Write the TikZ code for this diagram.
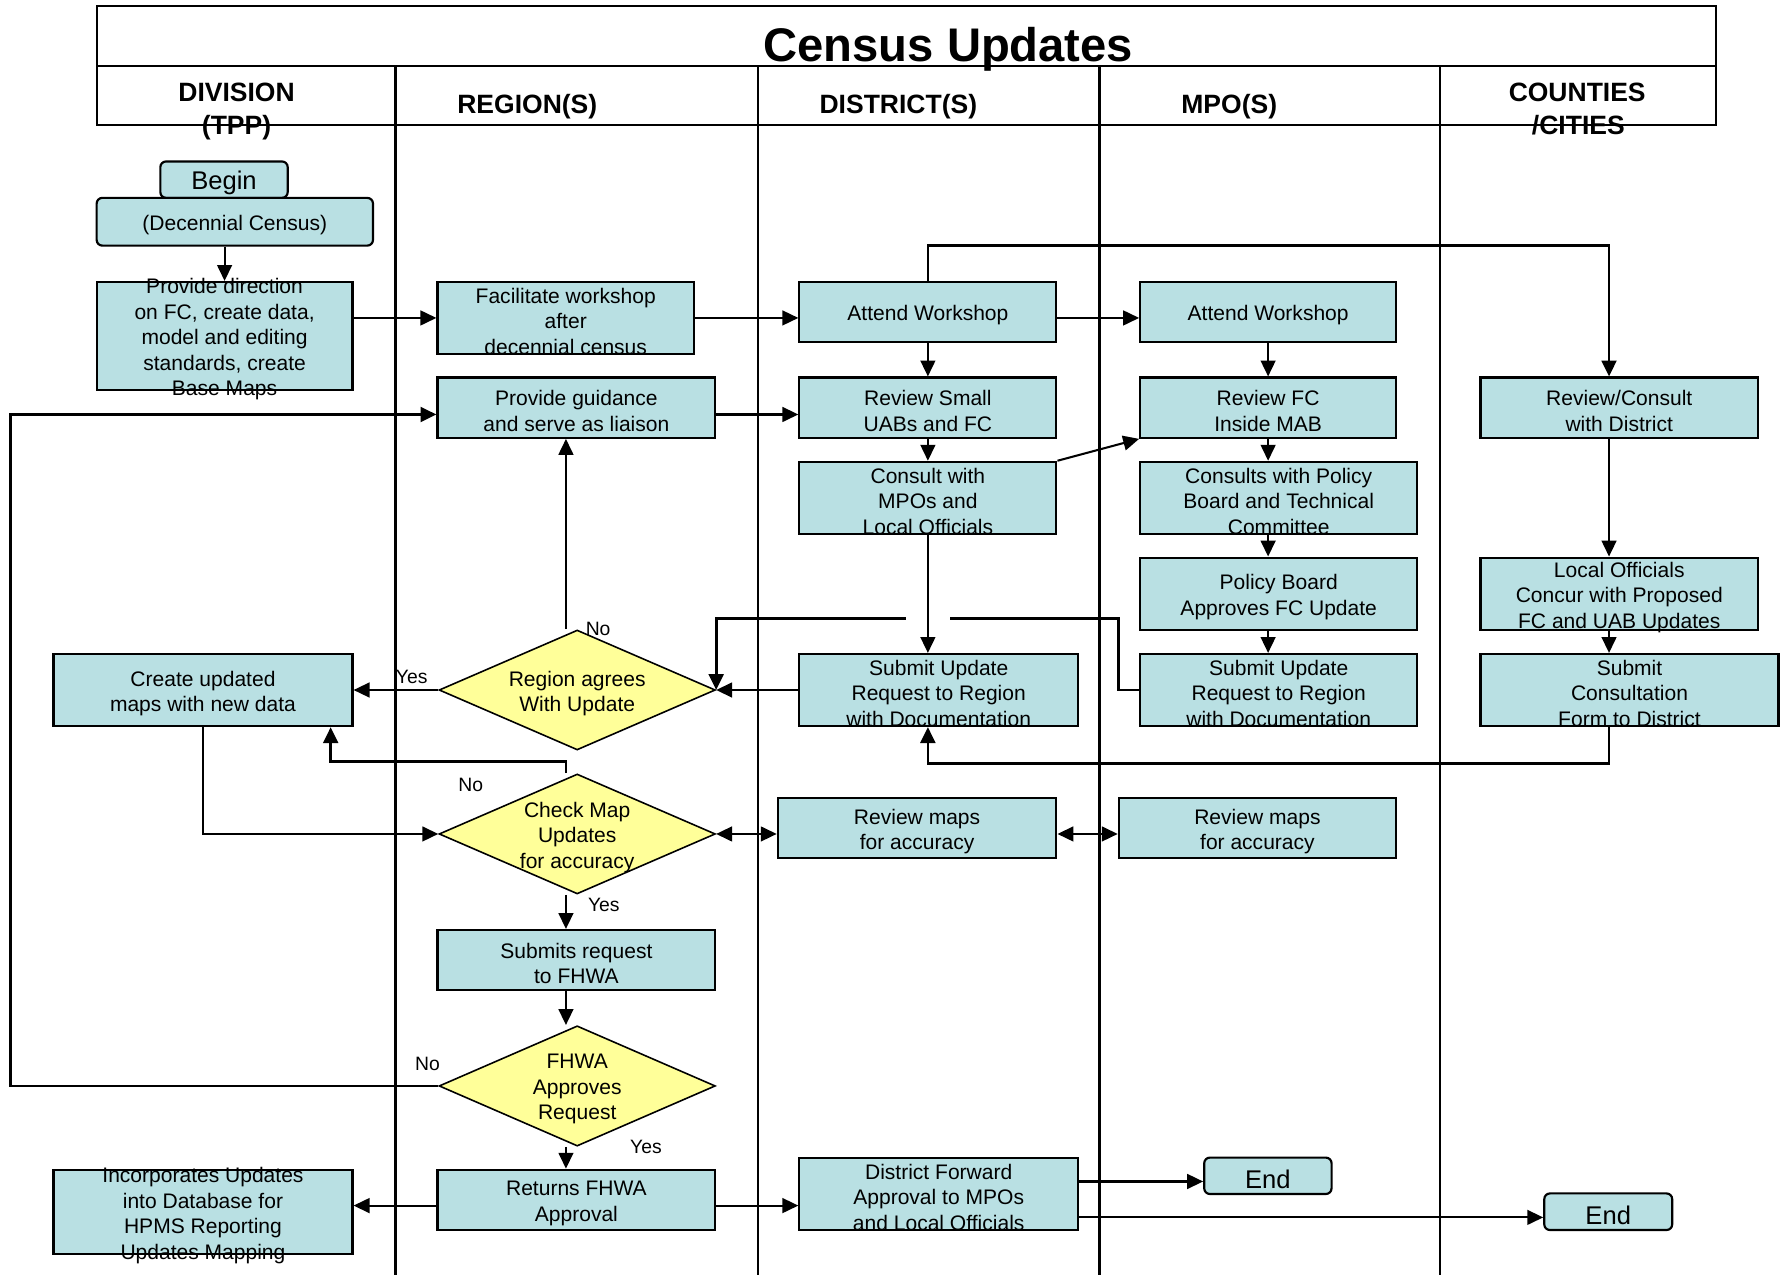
\documentclass[tikz,border=0pt]{standalone}
\usepackage{fontspec}
\setmainfont{Liberation Sans}
\usetikzlibrary{arrows.meta,shapes.geometric}
\definecolor{boxteal}{RGB}{185,224,227}
\definecolor{askyellow}{RGB}{255,255,153}
\begin{document}
\begin{tikzpicture}[x=1pt,y=-1pt,
   >={Triangle[length=14pt,width=13pt]},
   sz/.style 2 args={minimum width=#1pt, minimum height=#2pt},
   box/.style={draw, fill=boxteal, line width=1.9pt, inner sep=0pt},
   ask/.style={diamond, draw, fill=askyellow, line width=1.4pt, inner sep=0pt},
   every label/.style={align=center, inner sep=0pt, yshift=-3pt, font=\fontsize{18.5}{22.4}\selectfont},
   endfont/.style={font=\fontsize{22.5}{26}\selectfont},
   head/.style={anchor=base, font=\fontsize{23.3}{26}\selectfont\bfseries},
   yn/.style={font=\fontsize{17}{20}\selectfont},
   conn/.style={line width=1.8pt},
   bold/.style={line width=2.4pt}]
   \useasboundingbox (0,0) rectangle (1568,1121);
   \draw[line width=2pt] (85,5) rectangle (1509,58);
   \draw[line width=2pt] (85,58) rectangle (1509,110);
   \draw[line width=2.6pt] (348,58) -- (348,1121);
   \draw[line width=1.8pt] (667,58) -- (667,1121);
   \draw[line width=2.6pt] (967,58) -- (967,1121);
   \draw[line width=1.8pt] (1266,58) -- (1266,1121);
   \node[anchor=base, font=\fontsize{41.5}{48}\selectfont\bfseries] (title) at (834,54) {Census Updates};
   \node[head] (hdiv) at (208,89.4) {DIVISION};
   \node[head] (htpp) at (208,118.5) {(TPP)};
   \node[head] (hreg) at (463.7,99.7) {REGION(S)};
   \node[head] (hdis) at (790,99.7) {DISTRICT(S)};
   \node[head] (hmpo) at (1081,99.7) {MPO(S)};
   \node[head] (hcty) at (1387,89) {COUNTIES};
   \node[head] (hcit) at (1388,118.5) {/CITIES};
   \coordinate (rgn) at (497.7,0);
   \coordinate (cty) at (1415,0);

   \node[box, rounded corners=5pt, sz={112}{32}, label={[endfont]center:Begin}] (begin) at (197,158) {};
   \node[box, rounded corners=5pt, sz={243}{42}, label={center:(Decennial Census)}] (decennial) at (206.5,195) {};
   \node[box, sz={225}{95}, label={center:{Provide direction\\on FC, create data,\\model and editing\\standards, create\\Base Maps}}] (provdir) at (197.5,295.5) {};
   \node[box, sz={225.6}{63.3}, label={center:{Facilitate workshop\\after\\decennial census}}] (facil) at (497.5,279.6) {};
   \node[box, sz={244.3}{53}, label={center:{Provide guidance\\and serve as liaison}}] (guid) at (506.9,358.5) {};
   \node[box, sz={226}{53}, label={center:Attend Workshop}] (awdist) at (816,274.5) {};
   \node[box, sz={225}{53}, label={center:Attend Workshop}] (awmpo) at (1115.2,274.5) {};
   \node[box, sz={226}{53}, label={center:{Review Small\\UABs and FC}}] (revsmall) at (816,358.5) {};
   \node[box, sz={225}{53}, label={center:{Review FC\\Inside MAB}}] (revfc) at (1115.2,358.5) {};
   \node[box, sz={244}{53}, label={center:{Review/Consult\\with District}}] (revcons) at (1424,358.5) {};
   \node[box, sz={226}{63.7}, label={center:{Consult with\\MPOs and\\Local Officials}}] (consult) at (816,438) {};
   \node[box, sz={243.8}{63.7}, label={center:{Consults with Policy\\Board and Technical\\Committee}}] (conspol) at (1124.5,438) {};
   \node[box, sz={243.8}{63.6}, label={center:{Policy Board\\Approves FC Update}}] (polboard) at (1124.5,522.2) {};
   \node[box, sz={244}{63.6}, label={center:{Local Officials\\Concur with Proposed\\FC and UAB Updates}}] (locoff) at (1424,522.2) {};
   \node[box, sz={245}{63.3}, label={center:{Submit Update\\Request to Region\\with Documentation}}] (subdist) at (825.5,606.8) {};
   \node[box, sz={243.8}{63.3}, label={center:{Submit Update\\Request to Region\\with Documentation}}] (submpo) at (1124.5,606.8) {};
   \node[box, sz={262}{63.3}, label={center:{Submit\\Consultation\\Form to District}}] (subcons) at (1433,606.8) {};
   \node[box, sz={263}{63.5}, label={center:{Create updated\\maps with new data}}] (create) at (178.5,606.8) {};
   \node[ask, sz={243}{105.5}, label={center:{Region agrees\\With Update}}] (agree) at (507.6,606.8) {};
   \node[ask, sz={243}{105.5}, label={center:{Check Map\\Updates\\for accuracy}}] (check) at (507.6,733.4) {};
   \node[box, sz={245}{53}, label={center:{Review maps\\for accuracy}}] (revdist) at (806.5,728.3) {};
   \node[box, sz={243.8}{53}, label={center:{Review maps\\for accuracy}}] (revmpo) at (1105.8,728.3) {};
   \node[box, sz={244.3}{52.4}, label={center:{Submits request\\to FHWA}}] (fhwareq) at (506.9,844.1) {};
   \node[ask, sz={243}{105.8}, label={center:{FHWA\\Approves\\Request}}] (fhwa) at (507.6,955) {};
   \node[box, sz={244.3}{53}, label={center:{Returns FHWA\\Approval}}] (returns) at (506.9,1055.2) {};
   \node[box, sz={263}{74.3}, label={center:{Incorporates Updates\\into Database for\\HPMS Reporting\\Updates Mapping}}] (incorp) at (178.5,1065.9) {};
   \node[box, sz={245}{64}, label={center:{District Forward\\Approval to MPOs\\and Local Officials}}] (distfwd) at (825.5,1050) {};
   \node[box, rounded corners=5pt, sz={112}{32}, label={[endfont]center:End}] (endmpo) at (1115,1034) {};
   \node[box, rounded corners=5pt, sz={112.5}{32.2}, label={[endfont]center:End}] (endcty) at (1414.3,1065.6) {};

   \draw[conn,->] (decennial.south -| provdir.north) -- (provdir.north);
   \draw[conn,->] (provdir.east |- facil.west) -- (facil.west);
   \draw[conn,->] (facil.east) -- (facil.east -| awdist.west);
   \draw[conn,->] (awdist.east |- facil.east) -- (awmpo.west |- facil.east);
   \draw[conn,->] ([yshift=-6pt]guid.east) -- ([yshift=-6pt]guid.east -| revsmall.west);
   \draw[bold,->] (awdist.north) -- ++(0,-31) -| (revcons.north -| cty);
   \draw[conn,->] (awdist.south) -- (revsmall.north);
   \draw[conn,->] (awmpo.south) -- (revfc.north);
   \draw[conn,->] (revsmall.south) -- (consult.north);
   \draw[conn,->] (consult.north east) -- (revfc.south west);
   \draw[conn,->] (revfc.south) -- (revfc.south |- conspol.north);
   \draw[conn,->] (conspol.south -| revfc) -- (polboard.north -| revfc);
   \draw[conn,->] (polboard.south -| revfc) -- (submpo.north -| revfc);
   \draw[conn,->] (revcons.south -| cty) -- (locoff.north -| cty);
   \draw[conn,->] (locoff.south -| cty) -- (subcons.north -| cty);
   \draw[bold,->] (subcons.south -| cty) -- ++(0,32) -| (consult.south |- subdist.south);
   \draw[bold,->] (submpo.west) -- ++(-18.2,0) -- ++(0,-63.1) -| (agree.east);
   \draw[white, line width=4pt] (797,543.7) -- (835,543.7);
   \draw[conn,->] (consult.south) -- (consult.south |- subdist.north);
   \draw[conn,->] (subdist.west) -- (agree.east);
   \draw[conn,->] (agree.west) -- (create.east);
   \draw[conn,->] (agree.north -| rgn) -- (guid.south -| rgn);
   \draw[conn,->] (create.south) |- (check.west);
   \draw[bold,->] (check.north -| rgn) -- ++(0,-10.3) -| ([xshift=112.3pt]create.south);
   \draw[conn,<->] (check.east) -- (check.east -| revdist.west);
   \draw[conn,<->] (revdist.east |- check.east) -- (revmpo.west |- check.east);
   \draw[conn,->] (check.south -| rgn) -- (fhwareq.north -| rgn);
   \draw[conn,->] (fhwareq.south -| rgn) -- (fhwa.north -| rgn);
   \draw[bold,->] (fhwa.west) -- ++(-376,0) |- ([yshift=-6pt]guid.west);
   \draw[conn,->] (fhwa.south -| rgn) -- (returns.north -| rgn);
   \draw[conn,->] ([yshift=-5pt]returns.west) -- ([yshift=-5pt]returns.west -| incorp.east);
   \draw[conn,->] ([yshift=-5pt]returns.east) -- ([yshift=-5pt]returns.east -| distfwd.west);
   \draw[conn,->] ([yshift=-5pt]endmpo.west -| distfwd.east) -- ([yshift=-5pt]endmpo.west);
   \draw[conn,->] ([yshift=-5pt]endcty.west -| distfwd.east) -- ([yshift=-5pt]endcty.west);

   \node[yn] (noagree) at (526,553) {No};
   \node[yn] (yesagree) at (362,595.5) {Yes};
   \node[yn] (nocheck) at (414,690) {No};
   \node[yn] (yescheck) at (531,796) {Yes};
   \node[yn] (nofhwa) at (376,935.5) {No};
   \node[yn] (yesfhwa) at (568,1009) {Yes};
\end{tikzpicture}
\end{document}
